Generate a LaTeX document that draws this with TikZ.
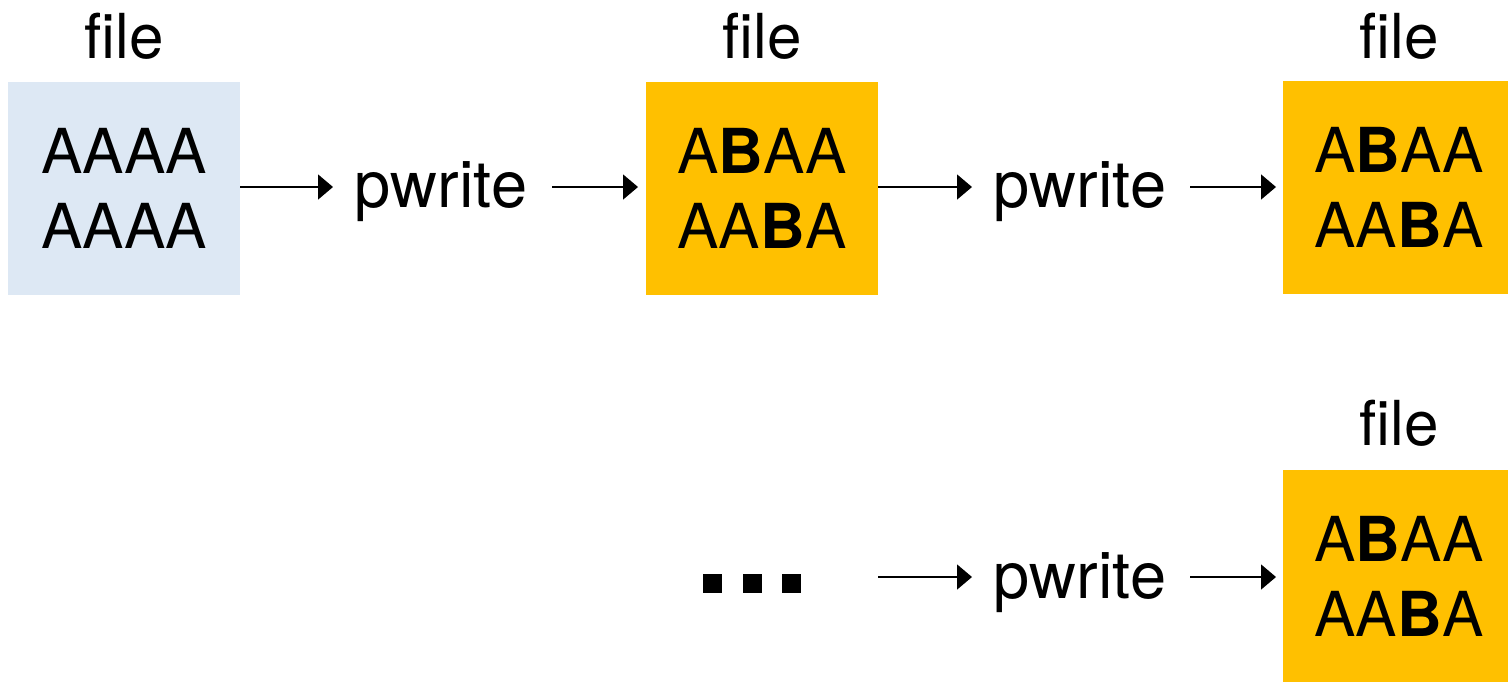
\documentclass[tikz,border=0pt]{standalone}
\usepackage{fontspec}
\setmainfont{TeX Gyre Heros}
\usetikzlibrary{arrows.meta}
\definecolor{lightblue}{HTML}{DDE8F4}
\definecolor{gold}{HTML}{FFC000}
\tikzset{
  px/.style={x=0.5pt,y=-0.5pt},
  txt/.style={font=\fontsize{31}{37.5}\selectfont, inner sep=0pt},
  optxt/.style={font=\fontsize{32.5}{37.5}\selectfont, inner sep=0pt, anchor=base},
  filebox/.style={minimum width=116pt, minimum height=106.5pt, inner sep=0pt, align=center, font=\fontsize{31}{37.5}\selectfont},
  conn/.style={line width=0.75pt, -{Triangle[length=7.5pt,width=12.5pt]}},
  dot/.style={fill=black, minimum size=9.5pt, inner sep=0pt},
}
\begin{document}
\begin{tikzpicture}[px]
\useasboundingbox (0,0) rectangle (1508,681);
% boxes
\node[filebox, fill=lightblue] (b1) at (124,188.5) {AAAA\\AAAA};
\node[filebox, fill=gold] (b2) at (762,188.5) {A\textbf{B}AA\\AA\textbf{B}A};
\node[filebox, fill=gold] (b3) at (1399,187.5) {A\textbf{B}AA\\AA\textbf{B}A};
\node[filebox, fill=gold] (b4) at (1399,576.5) {A\textbf{B}AA\\AA\textbf{B}A};
% labels
\node[txt, anchor=base] (l1) at (124,58) {file};
\node[txt, anchor=base] (l2) at (762,58) {file};
\node[txt, anchor=base] (l3) at (1399,58) {file};
\node[txt, anchor=base] (l4) at (1399,445) {file};
% pwrite labels
\node[optxt] (p1) at (441,207) {pwrite};
\node[optxt] (p2) at (1080,207) {pwrite};
\node[optxt] (p3) at (1080,598) {pwrite};
% dots
\node[dot] (d1) at (712,583.5) {};
\node[dot] (d2) at (752,583.5) {};
\node[dot] (d3) at (791,583.5) {};
% connector anchors
\coordinate (a1s) at (240,187);
\coordinate (a1e) at (333,187);
\coordinate (a2s) at (552,187);
\coordinate (a2e) at (638,187);
\coordinate (a3s) at (878,187);
\coordinate (a3e) at (972,187);
\coordinate (a4s) at (1190,187);
\coordinate (a4e) at (1276,187);
\coordinate (a5s) at (878,577);
\coordinate (a5e) at (972,577);
\coordinate (a6s) at (1190,577);
\coordinate (a6e) at (1276,577);
\draw[conn] (a1s) -- (a1e);
\draw[conn] (a2s) -- (a2e);
\draw[conn] (a3s) -- (a3e);
\draw[conn] (a4s) -- (a4e);
\draw[conn] (a5s) -- (a5e);
\draw[conn] (a6s) -- (a6e);
\end{tikzpicture}
\end{document}
